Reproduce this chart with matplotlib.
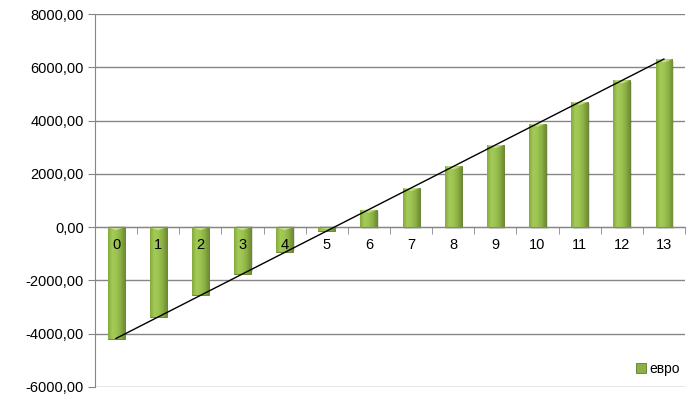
import numpy as np
import matplotlib
matplotlib.use('Agg')
import matplotlib.pyplot as plt
from matplotlib.colors import LinearSegmentedColormap
from matplotlib.ticker import FuncFormatter, MultipleLocator

# data
years = list(range(14))
euro = [-4180, -3370, -2560, -1760, -950, -140, 660, 1470, 2280, 3080, 3890, 4700, 5510, 6300]
series_name = 'евро'

plt.rcParams['font.family'] = ['Liberation Sans', 'DejaVu Sans']

fig = plt.figure(figsize=(6.93, 3.99), dpi=100)
ax = fig.add_axes([95 / 693, 12 / 399, 590 / 693, 373 / 399])

x = np.array(years)
y = np.array(euro)
width = 0.4

# base bars (used for the legend and for clipping the gradient)
bars = ax.bar(x, y, width=width, color='#8cb043', edgecolor='#5f7a2a',
              linewidth=0.6, label=series_name, zorder=3)

# gradient fill: lighter at the left/centre, darker towards the right
cmap = LinearSegmentedColormap.from_list('g', ['#86a83f', '#a4cb58', '#9dc352', '#8bb044', '#6f8d33'])
grad = np.linspace(0, 1, 64).reshape(1, -1)
for b in bars:
    x0, y0 = b.get_x(), b.get_y()
    w, h = b.get_width(), b.get_height()
    im = ax.imshow(grad, cmap=cmap, aspect='auto', extent=(x0, x0 + w, y0, y0 + h),
                   zorder=3.5, interpolation='bicubic')
    im.set_clip_path(b)
    # light bevel at the visual top of each bar
    top = max(y0, y0 + h)
    d = min(120, abs(h) / 2)
    ax.fill([x0, x0 + w / 2, x0 + w], [top, top - d, top],
            color='#d4ec98', alpha=0.75, zorder=3.6, lw=0)
    # soft shadow
    ax.bar(x0 + w / 2 + 0.04, h, width=w, bottom=y0 - np.sign(h) * 60,
           color='#000000', alpha=0.12, zorder=2.5, lw=0)

# linear trend line
k, c = np.polyfit(x, y, 1)
ax.plot([x[0], x[-1]], [k * x[0] + c, k * x[-1] + c], color='black', lw=1.0, zorder=5)

ax.set_xlim(-0.5, 13.5)
ax.set_ylim(-6000, 8000)
ax.yaxis.set_major_locator(MultipleLocator(2000))
ax.yaxis.set_major_formatter(FuncFormatter(lambda v, p: f'{v:.2f}'.replace('.', ',')))
ax.grid(axis='y', color='#868686', lw=1.0, zorder=0)
ax.set_axisbelow(True)

ax.spines['top'].set_visible(False)
ax.spines['right'].set_visible(False)
ax.spines['left'].set_color('#868686')
ax.spines['bottom'].set_position(('data', 0))
ax.spines['bottom'].set_color('#868686')
ax.spines['bottom'].set_zorder(4)

# category labels sit just under the zero line, on top of the bars
ax.set_xticks(x)
ax.set_xticklabels([])
ax.set_xticks(np.arange(-0.5, 14, 1), minor=True)
ax.tick_params(axis='x', which='major', length=0)
ax.tick_params(axis='x', which='minor', length=5, direction='out', color='#868686')
ax.tick_params(axis='y', length=5, color='#868686', labelsize=10.5, pad=3)
for xi, lab in zip(x, years):
    ax.annotate(str(lab), (xi, 0), xytext=(0, -13), textcoords='offset points',
                ha='center', va='center', fontsize=10.5, zorder=6)

leg = ax.legend(handles=[bars], loc='center left', bbox_to_anchor=(0.905, 0.048),
                frameon=False, fontsize=10, handlelength=0.7, handleheight=0.7,
                handletextpad=0.3, borderpad=0)

fig.savefig('out.png', dpi=100)
